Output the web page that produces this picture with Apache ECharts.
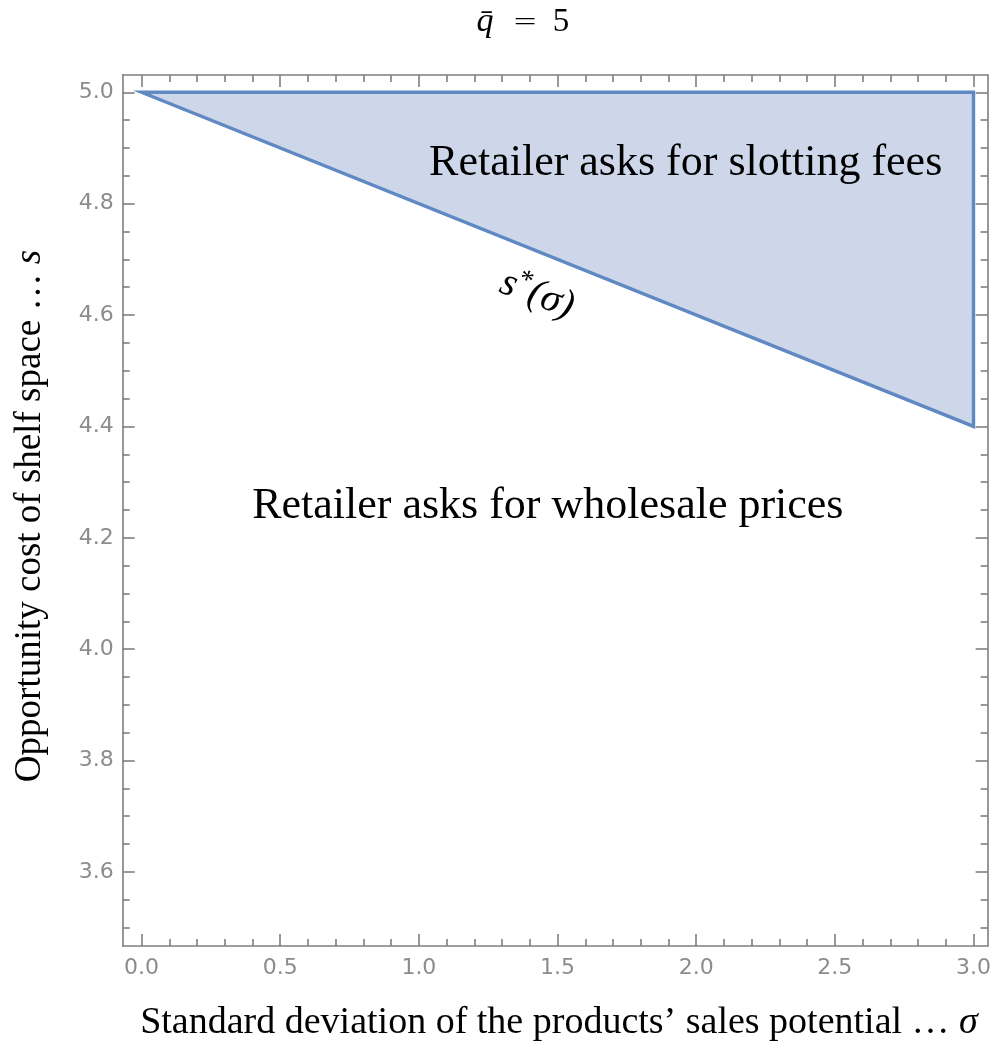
<!DOCTYPE html>
<html>
<head>
<meta charset="utf-8">
<script src="https://cdn.jsdelivr.net/npm/echarts@6/dist/echarts.min.js"></script>
<style>
html,body{margin:0;padding:0;background:#fff;}
#c{width:994px;height:1050px;}
</style>
</head>
<body>
<div id="c"></div>
<script>
// ---- data ----
const sigma = [0, 3];            // sigma at left / right end of the boundary
const sStar = [5.0, 4.4];        // s*(sigma) at those sigmas
const sTop = [5.0, 5.0];         // upper edge of the shaded region
const xMajor = [0, 0.5, 1.0, 1.5, 2.0, 2.5, 3.0];
const xMinor = [0.1, 0.2, 0.3, 0.4, 0.6, 0.7, 0.8, 0.9, 1.1, 1.2, 1.3, 1.4, 1.6, 1.7, 1.8, 1.9, 2.1, 2.2, 2.3, 2.4, 2.6, 2.7, 2.8, 2.9];
const yMajor = [3.6, 3.8, 4.0, 4.2, 4.4, 4.6, 4.8, 5.0];
const yMinor = [3.5, 3.55, 3.65, 3.7, 3.75, 3.85, 3.9, 3.95, 4.05, 4.1, 4.15, 4.25, 4.3, 4.35, 4.45, 4.5, 4.55, 4.65, 4.7, 4.75, 4.85, 4.9, 4.95];
const xTitle = 'Standard deviation of the products’ sales potential … ';
const yTitle = 'Opportunity cost of shelf space … ';
const regionLabels = [
  {text: 'Retailer asks for slotting fees', at: [1.962, 4.872]},
  {text: 'Retailer asks for wholesale prices', at: [1.465, 4.257]}
];
const curveLabelAt = [1.426, 4.636];

// ---- layout / style ----
const X_MIN = -0.068, X_MAX = 3.051, Y_MIN = 3.467, Y_MAX = 5.031;
const frameColor = '#7f7f7f';
const labelColor = '#8c8c8c';
const lineStyle = {color: frameColor, width: 1.6};

function xAxisDef(pos, vals, len, withLabel, withLine) {
  return {
    type: 'value', position: pos, min: X_MIN, max: X_MAX,
    axisLine: {show: withLine, onZero: false, lineStyle},
    axisTick: {show: true, inside: true, length: len, customValues: vals, lineStyle},
    axisLabel: withLabel ? {show: true, customValues: vals, formatter: v => v.toFixed(1),
      color: labelColor, fontFamily: 'DejaVu Sans', fontSize: 22, margin: 11} : {show: false},
    splitLine: {show: false}, minorTick: {show: false}
  };
}
function yAxisDef(pos, vals, len, withLabel, withLine) {
  return {
    type: 'value', position: pos, min: Y_MIN, max: Y_MAX,
    axisLine: {show: withLine, onZero: false, lineStyle},
    axisTick: {show: true, inside: true, length: len, customValues: vals, lineStyle},
    axisLabel: withLabel ? {show: true, customValues: vals, formatter: v => v.toFixed(1),
      color: labelColor, fontFamily: 'DejaVu Sans', fontSize: 22, margin: 9} : {show: false},
    splitLine: {show: false}, minorTick: {show: false}
  };
}

const verts = [[sigma[0], sStar[0]], [sigma[1], sTop[1]], [sigma[1], sStar[1]]];

const chart = echarts.init(document.getElementById('c'), null, {renderer: 'canvas'});
chart.setOption({
  backgroundColor: '#ffffff',
  animation: false,
  grid: {left: 122.7, top: 75, right: 4, bottom: 104, containLabel: false},
  xAxis: [
    xAxisDef('bottom', xMajor, 12, true, true),
    xAxisDef('bottom', xMinor, 7, false, false),
    xAxisDef('top', xMajor, 12, false, true),
    xAxisDef('top', xMinor, 7, false, false)
  ],
  yAxis: [
    yAxisDef('left', yMajor, 12, true, true),
    yAxisDef('left', yMinor, 7, false, false),
    yAxisDef('right', yMajor, 12, false, true),
    yAxisDef('right', yMinor, 7, false, false)
  ],
  series: [{
    type: 'custom',
    xAxisIndex: 0, yAxisIndex: 0,
    data: [[sigma[0], sStar[0]]],
    clip: false,
    z: 2,
    renderItem: function (params, api) {
      const pts = verts.map(v => api.coord(v));
      return {
        type: 'polygon',
        shape: {points: pts},
        style: {fill: '#cdd7e9', stroke: '#6088c2', lineWidth: 3.4, lineJoin: 'miter'}
      };
    }
  }]
});

function px(p) { return chart.convertToPixel({xAxisIndex: 0, yAxisIndex: 0}, p); }

const Z = 50;
const graphics = [];
// title: q̄ = 5
graphics.push({type: 'text', x: 485, y: 22, z: Z,
  style: {text: 'q̄', align: 'center', verticalAlign: 'middle',
    fontFamily: 'Liberation Serif', fontStyle: 'italic', fontSize: 34, fill: '#000'}});
graphics.push({type: 'text', x: 525, y: 23, z: Z,
  style: {text: '=', align: 'center', verticalAlign: 'middle',
    fontFamily: 'DejaVu Sans', fontWeight: 'lighter', fontSize: 30, fill: '#000'}});
graphics.push({type: 'text', x: 561, y: 22, z: Z,
  style: {text: '5', align: 'center', verticalAlign: 'middle',
    fontFamily: 'Liberation Serif', fontSize: 33, fill: '#000'}});
// x axis title
graphics.push({
  type: 'text', x: 559, y: 1023, z: Z,
  style: {
    text: '{a|' + xTitle + '}{b|σ}', align: 'center', verticalAlign: 'middle',
    rich: {
      a: {fontFamily: 'Liberation Serif', fontSize: 38, fill: '#000'},
      b: {fontFamily: 'Liberation Serif', fontStyle: 'italic', fontSize: 38, fill: '#000'}
    }
  }
});
// y axis title
graphics.push({
  type: 'text', x: 30, y: 516, rotation: Math.PI / 2, z: Z,
  style: {
    text: '{a|' + yTitle + '}{b|s}', align: 'center', verticalAlign: 'middle',
    rich: {
      a: {fontFamily: 'Liberation Serif', fontSize: 37, fill: '#000'},
      b: {fontFamily: 'Liberation Serif', fontStyle: 'italic', fontSize: 37, fill: '#000'}
    }
  }
});
// region labels
regionLabels.forEach(r => {
  const p = px(r.at);
  graphics.push({
    type: 'text', x: p[0], y: p[1], z: Z,
    style: {text: r.text, align: 'center', verticalAlign: 'middle',
      fontFamily: 'Liberation Serif', fontSize: 44, fill: '#000'}
  });
});
// s*(sigma) label
const cp = px(curveLabelAt);
graphics.push({
  type: 'text', x: cp[0], y: cp[1], rotation: -0.36, z: Z,
  style: {
    text: '{s|s}{sup|*}{s|(σ)}', align: 'center', verticalAlign: 'middle',
    rich: {
      s: {fontFamily: 'Liberation Serif', fontStyle: 'italic', fontSize: 40, fill: '#000'},
      sup: {fontFamily: 'Liberation Serif', fontSize: 28, fill: '#000', verticalAlign: 'top', padding: [0, 0, 18, 0]}
    }
  }
});
chart.setOption({graphic: graphics});
</script>
</body>
</html>
